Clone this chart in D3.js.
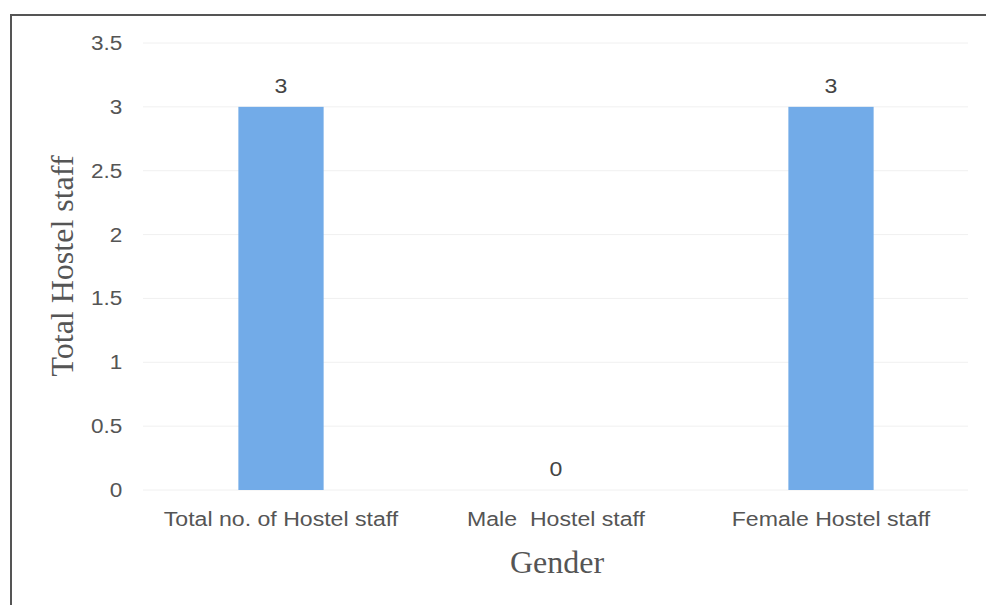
<!DOCTYPE html>
<html><head><meta charset="utf-8">
<script src="https://cdn.jsdelivr.net/npm/d3@7"></script>
<style>body{margin:0;background:#fff}svg{display:block}</style>
</head><body>
<script>
const categories = ["Total no. of Hostel staff", "Male  Hostel staff", "Female Hostel staff"];
const values = [3, 0, 3];
const yTicks = [0, 0.5, 1, 1.5, 2, 2.5, 3, 3.5];

const W = 986, H = 605;
const SX = 1.1; // horizontal stretch of sans labels
const sans = "Liberation Sans, Arial, sans-serif";
const serif = "Liberation Serif, Times New Roman, serif";
const svg = d3.select("body").append("svg").attr("width", W).attr("height", H);

// frame (top and left edges visible)
svg.append("line").attr("x1", 11).attr("x2", W).attr("y1", 15).attr("y2", 15)
  .attr("stroke", "#555").attr("stroke-width", 2);
svg.append("line").attr("x1", 11).attr("x2", 11).attr("y1", 14).attr("y2", H)
  .attr("stroke", "#555").attr("stroke-width", 2);

const x = d3.scaleBand().domain(categories).range([143.5, 968.5]).paddingInner(0.69).paddingOuter(0.345);
const y = d3.scaleLinear().domain([0, 3.5]).range([490, 43]);

// gridlines
svg.append("g").selectAll("line").data(yTicks).join("line")
  .attr("x1", 143).attr("x2", 968).attr("y1", d => y(d)).attr("y2", d => y(d))
  .attr("stroke", "#f0f0f0").attr("stroke-width", 1);

// y axis
const yAxis = svg.append("g").attr("transform", "translate(130,0)")
  .call(d3.axisLeft(y).tickValues(yTicks).tickSize(0).tickPadding(7).tickFormat(d3.format("")));
yAxis.select(".domain").remove();
yAxis.selectAll("text").attr("font-family", sans)
  .attr("font-size", 20.5).attr("fill", "#555").attr("transform", `scale(${SX},1)`);

// x axis
const xAxis = svg.append("g").attr("transform", "translate(0,490)")
  .call(d3.axisBottom(x).tickSize(0).tickPadding(21));
xAxis.select(".domain").remove();
xAxis.selectAll("text").attr("font-family", sans)
  .attr("font-size", 21).attr("fill", "#555").style("white-space", "pre")
  .attr("transform", `scale(${SX},1)`);

// bars
svg.append("g").selectAll("rect").data(values).join("rect")
  .attr("x", (d, i) => x(categories[i])).attr("width", x.bandwidth())
  .attr("y", d => y(d)).attr("height", d => y(0) - y(d))
  .attr("fill", "#72abe8");

// value labels
svg.append("g").selectAll("g").data(values).join("g")
  .attr("transform", (d, i) => `translate(${x(categories[i]) + x.bandwidth() / 2},${y(d) - 14})`)
  .append("text")
  .attr("text-anchor", "middle").attr("transform", `scale(${SX},1)`)
  .attr("font-family", sans)
  .attr("font-size", 21).attr("fill", "#444").text(d => d);

// axis titles
svg.append("text").attr("x", 557).attr("y", 573).attr("text-anchor", "middle")
  .attr("font-family", serif).attr("font-size", 32)
  .attr("fill", "#555").text("Gender");
svg.append("text").attr("transform", "translate(73,266) rotate(-90)").attr("text-anchor", "middle")
  .attr("font-family", serif).attr("font-size", 32)
  .attr("fill", "#555").text("Total Hostel staff");
</script>
</body></html>
